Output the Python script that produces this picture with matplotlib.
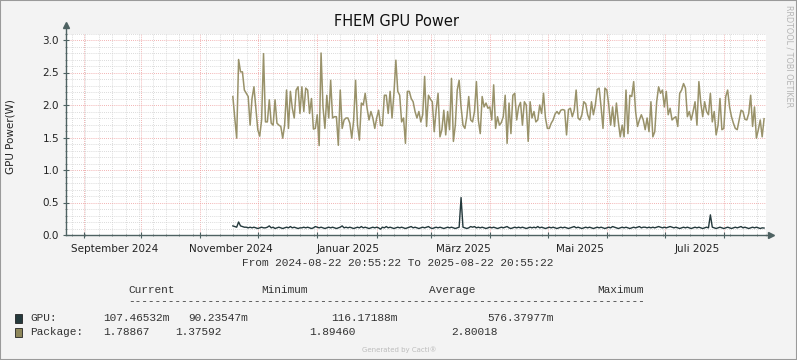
import matplotlib
matplotlib.use('Agg')
import matplotlib.pyplot as plt
import matplotlib.dates as mdates
from matplotlib.patches import Rectangle
from datetime import datetime, timedelta

# time frame of the graph
t_start = datetime(2024, 8, 22, 20, 55, 22)
t_end = datetime(2025, 8, 22, 20, 55, 22)
data_start = datetime(2024, 11, 17, 20, 55)

# daily values (W)
package = [
    2.13, 1.80, 1.49, 2.70, 2.51, 2.51, 2.23, 2.18, 2.13, 1.69, 2.10, 2.28, 1.95, 1.62, 1.52,
    1.77, 2.79, 1.74, 1.74, 2.08, 1.72, 1.69, 2.08, 1.72, 1.69, 1.67, 1.49, 1.69, 2.23, 1.64,
    2.21, 1.95, 1.80, 2.23, 2.28, 1.87, 2.28, 1.90, 2.26, 2.23, 1.87, 2.10, 1.63, 1.64, 1.85,
    1.376, 2.80, 1.97, 1.64, 2.15, 1.80, 2.38, 1.80, 1.82, 1.82, 1.38, 2.23, 1.64, 1.77, 1.80,
    1.80, 1.72, 1.49, 1.77, 2.38, 1.69, 1.46, 2.03, 2.00, 2.18, 1.95, 1.77, 1.90, 1.80, 1.64,
    1.80, 1.92, 1.69, 1.68, 2.15, 2.15, 1.87, 2.21, 1.80, 2.18, 2.69, 2.21, 2.15, 1.74, 1.80,
    1.41, 2.21,
    2.21, 2.10, 2.05, 1.90, 1.80, 1.90, 1.74, 1.85, 2.44, 1.67, 2.15, 2.09, 2.05, 1.59, 1.92,
    2.18, 1.51, 1.62, 1.92, 1.54, 1.90, 1.62, 2.41, 1.44, 1.69, 2.23, 2.38, 1.97, 1.69, 1.64,
    1.82, 2.13, 1.77, 1.74, 1.90, 2.36, 1.77, 1.56, 2.13, 1.97, 2.03, 1.95, 1.97, 1.77, 2.31,
    1.64, 1.82,
    1.69, 1.73, 1.82, 2.15, 1.41, 2.03, 1.56, 2.15, 2.18, 1.77, 1.97, 2.04, 1.69, 2.05, 2.00,
    1.44, 2.05, 1.80, 1.90, 1.74, 1.77, 2.00, 1.87, 2.18, 1.80, 1.64, 1.64, 1.72, 1.77, 1.86,
    1.90, 1.86, 1.92, 1.93, 1.92, 1.54, 1.93, 1.95, 1.82, 1.92, 2.23, 1.80, 1.77, 1.85, 2.05,
    2.02, 1.85,
    1.77, 2.05, 1.85, 2.00, 2.24, 2.26, 1.97, 1.64, 2.26, 2.23, 2.00, 1.69, 1.97, 1.67, 2.03,
    1.74, 1.51, 1.69, 1.51, 2.23, 1.56, 2.15, 2.13, 2.36, 1.90, 1.67, 1.77, 1.85, 1.77, 1.62,
    1.80, 1.59, 2.05, 1.51, 1.59, 2.05, 2.28, 2.18, 2.23, 1.97, 2.21, 1.85, 1.95, 1.77, 1.80,
    1.82, 1.67,
    2.18, 2.23, 2.33, 2.26, 1.82, 1.90, 1.77, 1.90, 2.05, 1.69, 2.36, 2.03, 1.82, 2.05, 1.90,
    1.85, 2.18, 1.74, 1.90, 1.54, 1.69, 2.10, 1.62, 1.64, 2.13, 2.23, 1.97, 1.82, 1.72, 1.64,
    1.62, 1.77, 1.92, 1.90, 1.78, 1.77, 1.87, 2.15, 1.67, 1.97, 1.49, 1.62, 1.77, 1.51, 1.789,
]

gpu = [
    .14, .13, .12, .20, .14, .13, .12, .12, .11, .12,
    .11, .12, .11, .10, .11, .12, .11, .11, .12, .14,
    .11, .12, .10, .11, .12, .11, .10, .11, .12, .11,
    .13, .11, .12, .11, .10, .11, .11, .12, .11, .12,
    .11, .10, .11, .13, .12, .11, .12, .11, .10, .11,
    .12, .11, .12, .11, .10, .11, .12, .14, .11, .12,
    .11, .12, .11, .10, .11, .12, .11, .13, .11, .12,
    .11, .10, .11, .12, .11, .12, .11, .09, .12, .11,
    .13, .11, .12, .11, .10, .11, .12, .11, .12, .11,
    .10, .11, .12, .13, .11, .12, .11, .10, .11, .12,
    .11, .12, .13, .11, .10, .11, .12, .11, .12, .11,
    .10, .11, .12, .11, .12, .11, .10, .11, .12, .576,
    .12, .11, .10, .11, .13, .12, .13, .11, .12, .11,
    .12, .11, .10, .11, .12, .11, .12, .11, .10, .11,
    .12, .11, .12, .13, .11, .10, .11, .12, .11, .12,
    .11, .12, .11, .10, .11, .12, .11, .12, .11, .13,
    .11, .12, .11, .10, .11, .12, .11, .12, .11, .10,
    .11, .12, .11, .12, .11, .10, .11, .12, .13, .11,
    .12, .11, .10, .11, .12, .11, .12, .11, .10, .11,
    .12, .11, .12, .11, .10, .11, .12, .11, .13, .12,
    .11, .10, .11, .12, .11, .12, .11, .10, .11, .12,
    .11, .12, .13, .11, .12, .12, .11, .12, .11, .12,
    .11, .12, .13, .12, .11, .12, .11, .12, .13, .12,
    .11, .12, .11, .10, .11, .12, .11, .12, .11, .10,
    .11, .12, .11, .12, .11, .10, .11, .12, .11, .31,
    .12, .11, .10, .11, .12, .11, .10, .11, .12, .11,
    .10, .11, .12, .11, .12, .13, .11, .12, .11, .10,
    .11, .12, .11, .12, .11, .10, .11, .107,
]

month_labels = ['September 2024', 'November 2024', 'Januar 2025',
                'März 2025', 'Mai 2025', 'Juli 2025']
label_dates = [datetime(2024, 9, 17), datetime(2024, 11, 17), datetime(2025, 1, 17),
               datetime(2025, 3, 18), datetime(2025, 5, 18), datetime(2025, 7, 18)]

legend_head = ['Current', 'Minimum', 'Average', 'Maximum']
gpu_stats = ['107.46532m', '90.23547m', '116.17188m', '576.37977m']
pkg_stats = ['1.78867', '1.37592', '1.89460', '2.80018']

c_pkg = '#8E875B'
c_pkg_line = '#99926A'
c_gpu = '#24393C'
c_axis = '#4E6262'

W, H = 797, 360
fig = plt.figure(figsize=(W / 100, H / 100), dpi=100, facecolor='#F3F3F3')

def fx(px):
    return px / W

def fy(py):
    return 1 - py / H

ax = fig.add_axes([fx(66), fy(235), fx(700), (235 - 33.5) / H])
ax.set_facecolor('white')

dates = [data_start + timedelta(days=i) for i in range(len(package))]
ax.plot(dates, package, color=c_pkg_line, lw=1.1, zorder=3)
ax.plot(dates, gpu, color=c_gpu, lw=1.0, zorder=3)

ax.set_xlim(t_start, t_end)
ax.set_ylim(0, 3.1)

ax.xaxis.set_major_locator(mdates.MonthLocator())
ax.xaxis.set_minor_locator(mdates.WeekdayLocator(byweekday=mdates.MO))
ax.xaxis.set_major_formatter(plt.NullFormatter())
ax.set_yticks([0, 0.5, 1.0, 1.5, 2.0, 2.5, 3.0])
ax.set_yticks([i / 10 for i in range(32)], minor=True)
ax.set_yticklabels(['0.0', '0.5', '1.0', '1.5', '2.0', '2.5', '3.0'])

ax.grid(which='minor', color='#CFCFCF', lw=0.6, ls=(0, (1, 1.5)), zorder=0)
ax.grid(which='major', color='#EE9A9A', lw=0.6, ls=(0, (1, 1.5)), zorder=1)

ax.tick_params(axis='both', which='both', colors=c_axis, direction='inout')
ax.tick_params(axis='both', which='major', length=4, width=0.8, labelcolor='#222222',
               labelsize=7.5)
ax.tick_params(axis='both', which='minor', length=2, width=0.5)
ax.tick_params(axis='y', which='major', pad=3)

for s in ['top', 'right']:
    ax.spines[s].set_visible(False)
for s in ['left', 'bottom']:
    ax.spines[s].set_color(c_axis)
    ax.spines[s].set_linewidth(1.0)

# axis arrows (rrdtool style)
ax.plot([0, 0], [1, 1.04], color=c_axis, lw=1.0, transform=ax.transAxes, clip_on=False)
ax.plot([0], [1.04], marker='^', color=c_axis, ms=4, transform=ax.transAxes, clip_on=False)
ax.plot([1, 1.007], [0, 0], color=c_axis, lw=1.0, transform=ax.transAxes, clip_on=False)
ax.plot([1.007], [0], marker='>', color=c_axis, ms=4, transform=ax.transAxes, clip_on=False)

for lab, d in zip(month_labels, label_dates):
    ax.text(d, -0.045, lab, transform=ax.get_xaxis_transform(), ha='center', va='top',
            fontsize=7.5, color='#222222')

# titles and labels
fig.text(fx(397), fy(22), 'FHEM GPU Power', ha='center', va='center', fontsize=10.5,
         color='#111111')
fig.text(fx(11), fy(137), 'GPU Power(W)', ha='center', va='center', rotation=90,
         fontsize=7.5, color='#222222')
fig.text(fx(789), fy(56), 'RRDTOOL / TOBI OETIKER', ha='center', va='center',
         rotation=270, fontsize=5.8, color='#B5B5B5')

mono = 'Liberation Mono'
fig.text(fx(398), fy(263), 'From 2024-08-22 20:55:22 To 2025-08-22 20:55:22',
         ha='center', va='center', family=mono, fontsize=8, color='#333333')

for lab, x in zip(legend_head, [128, 261, 429, 597]):
    fig.text(fx(x), fy(290), lab, ha='left', va='center', family=mono, fontsize=8,
             color='#333333')
fig.text(fx(128), fy(301), '-' * 78, ha='left', va='center', family=mono, fontsize=8,
         color='#333333')

fig.text(fx(30), fy(318), 'GPU:', ha='left', va='center', family=mono, fontsize=8,
         color='#333333')
for val, x in zip(gpu_stats, [103, 188.5, 331.6, 487]):
    fig.text(fx(x), fy(318), val, ha='left', va='center', family=mono, fontsize=8,
             color='#333333')
fig.text(fx(30), fy(332), 'Package:', ha='left', va='center', family=mono, fontsize=8,
         color='#333333')
for val, x in zip(pkg_stats, [103, 174.7, 309.3, 451.2]):
    fig.text(fx(x), fy(332), val, ha='left', va='center', family=mono, fontsize=8,
             color='#333333')

for col, y in [(c_gpu, 323), (c_pkg, 337)]:
    fig.patches.append(Rectangle((fx(15), fy(y)), fx(7), 9 / H, transform=fig.transFigure,
                                 facecolor=col, edgecolor='#222222', lw=0.6))

fig.text(fx(399), fy(350), 'Generated by Cacti®', ha='center', va='center', fontsize=5,
         color='#BDBDBD')

# frame around the image
fig.patches.append(Rectangle((0, 0), 1, 1, transform=fig.transFigure, fill=False,
                             edgecolor='#9A9A9A', lw=1.5))

fig.savefig('out.png', dpi=100, facecolor=fig.get_facecolor())
